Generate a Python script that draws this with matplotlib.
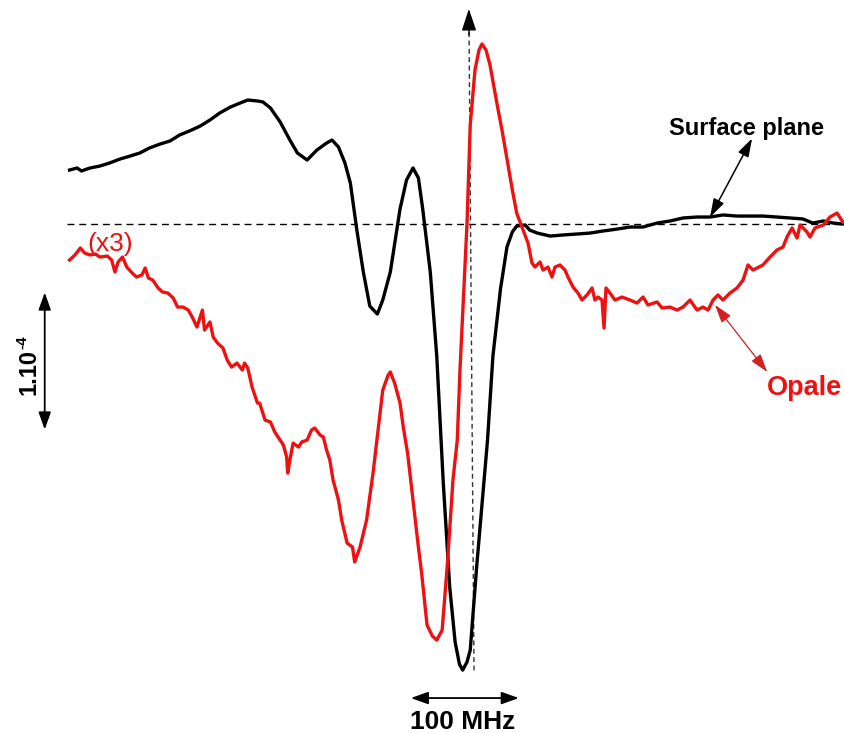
import matplotlib
matplotlib.use("Agg")
import matplotlib.pyplot as plt

# ---------------- data (x: MHz relative to centre, y: units of 1e-6) ----------------
surface_mhz = [-368, -361, -357, -349, -340, -331, -321, -312, -303, -294, -284, -275, -266, -257,
               -247, -238, -229, -219, -210, -203, -194, -189, -182, -173, -164, -157, -148, -139,
               -130, -125, -119, -113, -108, -102, -96, -90, -83, -78, -71, -62, -56, -50, -45, -41,
               -34, -28, -22, -16, -11, -7, -4, 0, 3, 9, 19, 24, 31, 37, 42, 46, 54, 58, 65, 77, 89,
               102, 114, 126, 139, 151, 163, 176, 188, 200, 213, 225, 237, 250, 262, 274, 287, 299,
               311, 320, 330, 339, 348]
surface_signal = [39.4, 40.9, 38.7, 40.9, 42.3, 44.5, 47.5, 49.6, 51.8, 55.5, 58.4, 60.6, 65.0, 67.9,
                  71.5, 75.9, 81.0, 85.4, 88.3, 90.5, 89.8, 89.1, 84.7, 74.5, 61.3, 51.8, 46.7, 54.0,
                  59.1, 61.3, 56.2, 44.5, 29.9, -4.4, -35.0, -59.9, -65.7, -55.5, -35.0, 11.0, 32.1,
                  40.9, 33.6, 11.0, -35.0, -96.4, -188.3, -265.0, -305.1, -321.2, -325.6, -319.7,
                  -311.0, -249.7, -157.7, -96.4, -47.5, -16.8, -5.8, -1.5, -0.7, -4.4, -6.6, -8.8,
                  -8.0, -7.3, -6.6, -5.1, -3.7, -2.2, -2.2, 0.7, 2.2, 4.4, 5.1, 5.1, 6.6, 5.8, 5.8,
                  5.8, 5.1, 4.4, 3.7, 0.7, 2.2, 0.7, 0.0]

opale_mhz = [-368, -363, -358, -354, -349, -344, -340, -333, -329, -326,
             -323, -319, -315, -310, -306, -301, -298, -295, -291, -286,
             -282, -277, -272, -268, -263, -258, -254, -250, -245, -243,
             -238, -235, -231, -226, -222, -218, -213, -208, -206, -203,
             -199, -194, -192, -187, -182, -178, -173, -170, -167, -166,
             -164, -161, -156, -153, -148, -144, -141, -136, -133, -130,
             -127, -124, -119, -116, -111, -106, -104, -99, -93, -87,
             -82, -78, -73, -71, -67, -62, -59, -55, -50, -45,
             -42, -37, -32, -28, -23, -18, -13, -9, -6.5, -4,
             0, 3, 7.4, 11.1, 13.9, 17.6, 21.3, 27.8, 32.4, 37,
             42, 46, 49.1, 51.9, 56.5, 60.2, 63, 67.6, 70.4, 75,
             78.7, 81.5, 86.1, 90.7, 93.5, 98.2, 102.8, 106.5, 111.1, 115.8,
             118.5, 121.3, 125, 126.9, 128.7, 132.4, 137, 143.5, 151, 157.4,
             163, 167.6, 176, 180.6, 188, 194.5, 200, 206.5, 213, 218.5,
             223.2, 227.8, 232.4, 237, 243.5, 250, 255.6, 260.2, 264.8, 274,
             280.6, 287, 292.6, 296.3, 301, 305.6, 308.4, 314.8, 317.6, 322.2,
             330, 336.1, 342.6, 348]
opale_x3_signal = [-26.3, -22.6, -17.5, -21.2, -22.6, -21.9, -24.1, -23.4, -26.3, -35.0,
                   -27.7, -24.1, -31.4, -35.8, -38.7, -37.2, -32.1, -39.4, -40.9, -46.7,
                   -49.6, -50.4, -54.0, -60.6, -60.6, -62.8, -68.6, -75.2, -62.8, -77.4,
                   -71.5, -82.5, -86.9, -90.5, -99.3, -104.4, -101.5, -106.6, -101.5, -105.1,
                   -119.0, -130.7, -130.7, -143.1, -144.5, -151.8, -157.7, -161.3, -170.1, -181.8,
                   -172.3, -159.9, -162.8, -159.1, -157.7, -150.4, -148.9, -154.0, -155.5, -165.0,
                   -172.3, -186.9, -201.5, -216.1, -232.9, -235.8, -246.7, -235.8, -216.1, -181.8,
                   -148.2, -121.2, -110.2, -108.0, -116.1, -130.7, -148.2, -167.2, -201.5, -235.8,
                   -254.8, -292.7, -300.8, -303.7, -296.4, -246.7, -186.9, -157.7, -106.6, -65.7,
                   0.0, 72.3, 112.4, 127.0, 131.4, 127.0, 116.1, 87.6, 68.6, 47.5,
                   24.8, 8.0, 1.5, -4.4, -13.9, -28.5, -31.4, -27.7, -33.6, -31.4,
                   -38.7, -31.4, -29.9, -33.6, -38.7, -46.0, -50.4, -55.5, -51.8, -46.7,
                   -55.5, -53.3, -55.5, -75.9, -46.7, -50.4, -55.5, -53.3, -55.5, -57.7,
                   -53.3, -59.1, -56.9, -61.3, -60.6, -62.8, -60.6, -55.5, -62.8, -60.6,
                   -62.8, -55.5, -51.8, -55.5, -50.4, -46.7, -40.9, -29.9, -33.6, -29.9,
                   -24.1, -19.0, -16.8, -9.5, -2.9, -10.2, -0.7, -5.8, -9.5, -2.9,
                   -0.7, 5.1, 8.0, 1.5]

scale_mhz = 100        # horizontal scale bar: 100 MHz
scale_signal = 100     # vertical scale bar: 1e-4 = 100 x 1e-6

RED = "#ee1111"
plt.rcParams["font.family"] = ["Liberation Sans", "DejaVu Sans"]

fig = plt.figure(figsize=(8.45, 7.33), dpi=100)
ax = fig.add_axes([0, 0, 1, 1])
ax.set_xlim(-432.4, 350.0)
ax.set_ylim(-371.5, 163.5)
ax.axis("off")

# reference lines
ax.plot([-370, 352], [0, 0], color="black", lw=1.0, ls=(0, (5, 3.5)), zorder=1)
ax.plot([1.9, 6.5], [140, -326], color="#333333", lw=1.0, ls=(0, (3.5, 2.5)), zorder=1)
ax.annotate("", xy=(1.7, 157), xytext=(1.9, 138),
            arrowprops=dict(arrowstyle="-|>,head_length=0.9,head_width=0.3", color="black",
                            lw=1.0, mutation_scale=15, shrinkA=0, shrinkB=0))

# curves
ax.plot(surface_mhz, surface_signal, color="black", lw=2.4, zorder=3, solid_joinstyle="round")
ax.plot(opale_mhz, opale_x3_signal, color=RED, lw=2.4, zorder=4, solid_joinstyle="round")

# labels with arrows
ax.text(259, 65, "Surface plane", fontsize=17, fontweight="bold", ha="center", va="baseline")
ax.annotate("", xy=(264, 62.5), xytext=(225, 5),
            arrowprops=dict(arrowstyle="<|-|>,head_length=0.8,head_width=0.25", color="black",
                            lw=1.1, mutation_scale=14, shrinkA=0, shrinkB=0))

ax.text(312, -125, "Opale", fontsize=19.5, fontweight="bold", color=RED, ha="center", va="baseline")
ax.annotate("", xy=(229.6, -59), xytext=(278, -108),
            arrowprops=dict(arrowstyle="<|-|>,head_length=0.8,head_width=0.25", color="#d42020",
                            lw=0.9, mutation_scale=14, shrinkA=0, shrinkB=0))

ax.text(-330, -14.6, "(x3)", fontsize=19, color=RED, ha="center", va="center")

# vertical scale bar
ax.annotate("", xy=(-391, -50), xytext=(-391, -50 - scale_signal),
            arrowprops=dict(arrowstyle="<|-|>,head_length=0.7,head_width=0.25", color="black",
                            lw=1.3, mutation_scale=15, shrinkA=0, shrinkB=0))
ax.text(-406, -108, "1.10", fontsize=17, fontweight="bold", rotation=90,
        ha="center", va="center")
ax.text(-412, -86, "-4", fontsize=11, fontweight="bold", rotation=90,
        ha="center", va="center")

# horizontal scale bar
ax.annotate("", xy=(-52, -346), xytext=(-52 + scale_mhz, -346),
            arrowprops=dict(arrowstyle="<|-|>,head_length=0.7,head_width=0.25", color="black",
                            lw=1.3, mutation_scale=15, shrinkA=0, shrinkB=0))
ax.text(-4, -355, f"{scale_mhz} MHz", fontsize=19, fontweight="bold", ha="center", va="top")

fig.savefig("out.png", dpi=100)
